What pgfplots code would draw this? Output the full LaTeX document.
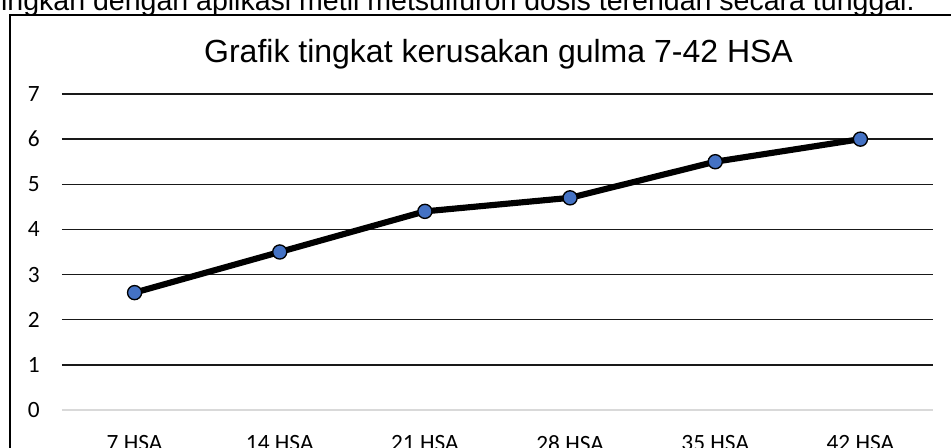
\documentclass[border=0pt]{standalone}
\usepackage{fontspec}
\setmainfont{Carlito}
\newfontfamily\arialf{Liberation Sans}
\usepackage{pgfplots}
\pgfplotsset{compat=1.18}
\definecolor{mblue}{HTML}{4472C4}
\begin{document}
\begin{tikzpicture}
\path[use as bounding box] (0,0) rectangle (713.25pt,336pt);
\clip (0,0) rectangle (713.25pt,336pt);
\begin{axis}[
  at={(46.5pt,28.5pt)}, anchor=south west,
  scale only axis, width=653.25pt, height=237pt,
  xmin=-0.5, xmax=5.5, ymin=0, ymax=7,
  axis line style={draw=none}, clip=false,
  xtick={0,1,2,3,4,5},
  xticklabels={7 HSA,14 HSA,21 HSA,28 HSA,35 HSA,42 HSA},
  ytick={1,2,3,4,5,6,7},
  extra y ticks={0}, extra y tick labels={0},
  extra y tick style={grid style={color=black!15, line width=1.3pt}},
  ymajorgrids, grid style={color=black!90, line width=1pt},
  major tick length=0pt, tick style={draw=none},
  /pgf/number format/assume math mode=true,
  tick label style={font=\fontsize{17.5}{20}\selectfont, text=black},
  yticklabel style={anchor=east, inner sep=0pt, xshift=-16.5pt},
  xticklabel style={anchor=north, inner sep=0pt, yshift=-19pt},
]
\addplot[black, line width=4.6pt, mark=*, mark size=5.3pt,
  mark options={fill=mblue, draw=black, line width=1pt}]
  coordinates {(0,2.6) (1,3.5) (2,4.4) (3,4.7) (4,5.5) (5,6.0)};
\end{axis}
\draw[line width=1.5pt, black] (7.5pt,-5pt) -- (7.5pt,324.75pt) -- (720pt,324.75pt);
\node[anchor=base, inner sep=0pt, font=\arialf\fontsize{24}{28}\selectfont] at (373.9pt,288.75pt) {Grafik tingkat kerusakan gulma 7-42 HSA};
\node[anchor=base east, inner sep=0pt, font=\arialf\fontsize{21.4}{24}\selectfont] at (686.25pt,328.4pt) {dibandingkan dengan aplikasi metil metsulfuron dosis terendah secara tunggal.};
\end{tikzpicture}
\end{document}
